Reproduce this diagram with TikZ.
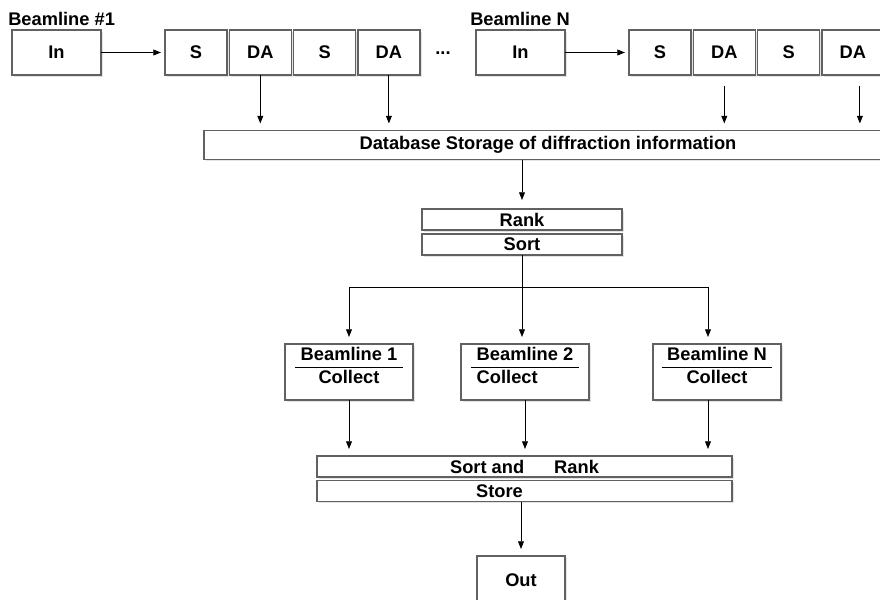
\documentclass[tikz,border=0pt]{standalone}
\usepackage{fontspec}
\setmainfont{Liberation Sans}
\usetikzlibrary{positioning,arrows.meta,shadows}
\newlength{\pxu}\setlength{\pxu}{0.025cm}
\newcommand{\twoline}[3]{\raisebox{3pt}[\height][\depth]{\begin{tabular}{#1}#2\\\hline #3\end{tabular}}}
\setlength{\tabcolsep}{4pt}
\setlength{\arrayrulewidth}{0.6pt}
\tikzset{
    box/.style={draw=black!62, line width=0.9pt, fill=white, inner sep=0pt, outer sep=0pt,
        drop shadow={opacity=0.22, shadow xshift=1.2pt, shadow yshift=-1.2pt},
        font=\fontsize{13}{16}\selectfont\bfseries},
    cell/.style={box, minimum width=62\pxu, minimum height=45\pxu},
    bar/.style={box, minimum height=21\pxu},
    clbox/.style={box, minimum width=128\pxu, minimum height=56\pxu},
    title/.style={inner sep=0pt, anchor=west, font=\fontsize{13}{16}\selectfont\bfseries},
    flow/.style={-{Triangle[length=5.5pt,width=4.2pt]}, line width=0.6pt, shorten >=7\pxu}
}
\begin{document}
\begin{tikzpicture}[x=\pxu, y=-\pxu]
    \useasboundingbox (0,0) rectangle (880,599);
    % beamline #1
    \node[title] (t1) at (8,19) {Beamline \#1};
    \node[cell, minimum width=89\pxu] (in1) at (56.5,52.5) {In};
    \node[cell] (s11) at (196,52.5) {S};
    \node[cell, right=2.3\pxu of s11] (da11) {DA};
    \node[cell, right=2.3\pxu of da11] (s12) {S};
    \node[cell, right=2.3\pxu of s12] (da12) {DA};
    \node[title, anchor=center] (gap) at (443,53) {...};
    % beamline N
    \node[title] (tN) at (470,19) {Beamline N};
    \node[cell, minimum width=89\pxu] (inN) at (520.5,52.5) {In};
    \node[cell] (sN1) at (660,52.5) {S};
    \node[cell, right=2.3\pxu of sN1] (daN1) {DA};
    \node[cell, right=2.3\pxu of daN1] (sN2) {S};
    \node[cell, right=2.3\pxu of sN2] (daN2) {DA};
    % storage and ranking
    \node[box, minimum width=688\pxu, minimum height=29\pxu] (db) at (548,145)
        {Database Storage of diffraction information};
    \node[bar, minimum width=200\pxu] (rank) at (522,219.5) {Rank};
    \node[bar, minimum width=200\pxu, below=4\pxu of rank] (sort) {Sort};
    % collection per beamline
    \node[clbox] (bl1) at (349,372) {\twoline{c}{Beamline 1}{Collect}};
    \node[clbox] (bl2) at (525,372) {\twoline{l}{Beamline 2}{Collect}};
    \node[clbox] (blN) at (717,372) {\twoline{c}{Beamline N}{Collect}};
    \node[bar, minimum width=415\pxu] (srt) at (524.5,466.5) {Sort and\hspace{0.75cm}Rank};
    \node[bar, minimum width=415\pxu, below=3.5\pxu of srt] (store) {Store\hspace*{1.25cm}};
    \node[box, minimum width=88\pxu, minimum height=48\pxu] (out) at (521,580) {Out};
    \coordinate (fork) at (524,287);
    \coordinate (tapN) at ([xshift=7\pxu]daN2.south);
    \coordinate (blNin) at ([xshift=-9\pxu]blN.north);
    \coordinate (blNout) at ([xshift=-9\pxu]blN.south);
    % connectors
    \draw[flow, shorten >=4\pxu] (in1) -- (s11);
    \draw[flow, shorten >=4\pxu] (inN) -- (sN1);
    \draw[flow] (da11.south) -- (da11.south |- db.north);
    \draw[flow] (da12.south) -- (da12.south |- db.north);
    \draw[flow, shorten <=11\pxu] (daN1.south) -- (daN1.south |- db.north);
    \draw[flow, shorten <=11\pxu] (tapN) -- (tapN |- db.north);
    \draw[flow, shorten >=9\pxu] (db.south -| rank.north) -- (rank.north);
    \draw[flow] (sort.south) -- (sort.south |- bl2.north);
    \draw[flow] (sort.south |- fork) -| (bl1.north);
    \draw[flow] (sort.south |- fork) -| (blNin);
    \draw[flow] (bl1.south) -- (bl1.south |- srt.north);
    \draw[flow] (bl2.south) -- (bl2.south |- srt.north);
    \draw[flow] (blNout) -- (blNout |- srt.north);
    \draw[flow] (store.south -| out.north) -- (out.north);
\end{tikzpicture}
\end{document}
